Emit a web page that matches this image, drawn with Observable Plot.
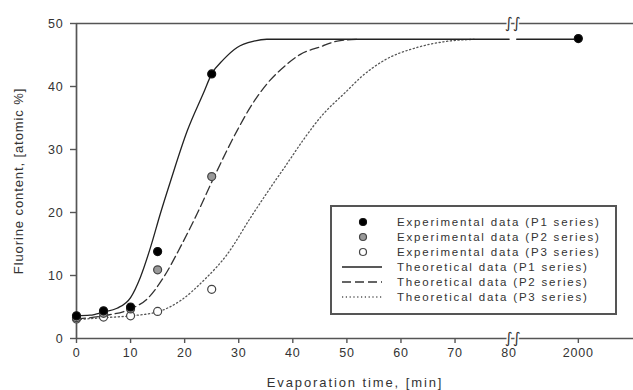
<!DOCTYPE html>
<html><head><meta charset="utf-8">
<script src="https://cdn.jsdelivr.net/npm/d3@7"></script>
<script src="https://cdn.jsdelivr.net/npm/@observablehq/plot@0.6"></script>
<style>
body{margin:0;background:#fff;}
#chart{position:relative;width:633px;height:390px;font-family:"Liberation Sans",Arial,sans-serif;}
#chart svg text{fill:#333;}
#legend{position:absolute;left:330px;top:205px;width:283px;height:106px;border:2px solid #555;background:#fff;}
#legend text{font-family:"Liberation Sans",Arial,sans-serif;font-size:11.5px;letter-spacing:1.8px;fill:#222;}
</style></head><body><div id="chart"></div>
<script>
// ---- data ----
const expTimes = [0, 5, 10, 15, 25, 2000];
const p1Exp = [3.6, 4.4, 5.0, 13.8, 42.0, 47.6];
const p2Exp = [3.3, 4.0, 4.7, 10.9, 25.7, null];
const p3Exp = [3.1, 3.4, 3.6, 4.3, 7.8, null];

const p1TheoT = [0, 2.5, 5, 7.5, 10, 11.8, 13.7, 15.5, 17.4, 20.5, 23.5, 25, 27.2, 29.7, 32.8, 35.2, 80, 1000, 2000];
const p1TheoV = [3.6, 3.7, 4.2, 4.8, 6.5, 9.7, 14.5, 19.8, 25.0, 33.0, 39.0, 42.0, 44.3, 46.2, 47.2, 47.5, 47.5, 47.5, 47.5];
const p2TheoT = [0, 5, 10, 13.1, 16.1, 19.2, 22.3, 25.1, 29.7, 32.5, 35.2, 38.6, 41.4, 45.1, 48.2, 52];
const p2TheoV = [3.1, 3.6, 4.7, 6.3, 9.7, 14.5, 19.8, 25.0, 33.0, 37.2, 40.4, 43.3, 45.1, 46.3, 47.2, 47.5];
const p3TheoT = [0, 5, 10, 14.9, 19.2, 23.5, 27.9, 32.2, 35.6, 38.9, 42.0, 45.1, 50.0, 52.5, 56.8, 63, 67.9, 74];
const p3TheoV = [3.0, 3.3, 3.6, 4.2, 6.0, 9.2, 13.4, 19.2, 23.6, 27.7, 31.6, 35.1, 39.3, 41.4, 44.1, 46.2, 47.1, 47.5];

const xTicks = [0, 10, 20, 30, 40, 50, 60, 70, 80, 2000];
const xTickLabels = ["0", "10", "20", "30", "40", "50", "60", "70", "80", "2000"];
const yTicks = [0, 10, 20, 30, 40, 50];
const xTitle = "Evaporation time, [min]";
const yTitle = "Fluorine content, [atomic %]";
const legendLabels = [
  "Experimental data (P1 series)",
  "Experimental data (P2 series)",
  "Experimental data (P3 series)",
  "Theoretical data (P1 series)",
  "Theoretical data (P2 series)",
  "Theoretical data (P3 series)"
];

// ---- broken axis mapping ----
const LOW_END = 80;          // last value of the lower segment
const BREAK_POS = 80.7;      // where the break symbol sits
const UP_START = 1000, UP_START_POS = 81.4, UP_SCALE = (92.8 - 81.4) / 1000;
const brk = t => t <= LOW_END ? t : UP_START_POS + (t - UP_START) * UP_SCALE;

const mk = (ts, vs) => ts.map((t, i) => ({t, v: vs[i]})).filter(d => d.v != null);
const theo1 = [];
p1TheoT.forEach((t, i) => { theo1.push({t, v: p1TheoV[i]}); if (t === LOW_END) theo1.push({t: BREAK_POS, v: NaN}); });
const theo2 = mk(p2TheoT, p2TheoV), theo3 = mk(p3TheoT, p3TheoV);
const e1 = mk(expTimes, p1Exp), e2 = mk(expTimes, p2Exp), e3 = mk(expTimes, p3Exp);

const X = d => brk(d.t), Y = d => d.v;
const lineStyle = {x: X, y: Y, curve: "monotone-x", strokeWidth: 1.3};
const styles = {
  d1: {fill: "#000", stroke: "#111"},
  d2: {fill: "#999", stroke: "#444"},
  d3: {fill: "#fff", stroke: "#444"},
  l1: {stroke: "#222"},
  l2: {stroke: "#333", strokeDasharray: "9,4"},
  l3: {stroke: "#555", strokeDasharray: "1.2,2.6"}
};

const plot = Plot.plot({
  width: 633, height: 390,
  marginLeft: 76, marginRight: 0, marginTop: 23, marginBottom: 52,
  x: {domain: [0, 103], axis: null},
  y: {domain: [0, 50], axis: null},
  style: {fontFamily: '"Liberation Sans", Arial, sans-serif', background: "white", color: "#333"},
  marks: [
    Plot.ruleY([0, 50], {stroke: "#555", strokeWidth: 1.7}),
    Plot.ruleX([0], {stroke: "#555", strokeWidth: 1.7}),
    Plot.axisY({ticks: yTicks, tickSize: 6, tickPadding: 7, fontSize: 12.5, label: null, stroke: "#555", strokeWidth: 1.4}),
    Plot.axisX(xTicks.map(brk), {tickSize: 5, tickPadding: 5, fontSize: 12.5, label: null, stroke: "#555", strokeWidth: 1.4,
      tickFormat: d => xTickLabels[xTicks.findIndex(t => brk(t) === d)]}),
    Plot.line(theo3, {...lineStyle, ...styles.l3}),
    Plot.line(theo2, {...lineStyle, ...styles.l2}),
    Plot.line(theo1, {...lineStyle, ...styles.l1}),
    Plot.dot(e3, {x: X, y: Y, r: 4, strokeWidth: 1.2, ...styles.d3}),
    Plot.dot(e2, {x: X, y: Y, r: 4, strokeWidth: 1.2, ...styles.d2}),
    Plot.dot(e1, {x: X, y: Y, r: 4, strokeWidth: 1.2, ...styles.d1}),
    Plot.text([0, 50], {x: () => BREAK_POS, y: d => d, text: () => "∫∫", fontSize: 15, fontFamily: "DejaVu Sans",
      fill: "#333", stroke: "white", strokeWidth: 3, paintOrder: "stroke", lineAnchor: "middle"}),
    Plot.text([xTitle], {frameAnchor: "bottom", dy: 44, fontSize: 13, lineAnchor: "middle", textAnchor: "middle"}),
    Plot.text([yTitle], {frameAnchor: "left", dx: -58, rotate: -90, fontSize: 13, lineAnchor: "middle", textAnchor: "middle"})
  ]
});
const chart = document.getElementById("chart");
chart.appendChild(plot);

// letter spacing of the wide-set labels
const svg = d3.select(plot);
svg.selectAll("text").filter(function() { return this.textContent === xTitle; }).style("letter-spacing", "1.9px");
svg.selectAll("text").filter(function() { return this.textContent === yTitle; }).style("letter-spacing", "0.9px");
svg.selectAll('g[aria-label$="tick label"] text').style("letter-spacing", "0.8px");

// ---- legend ----
const leg = d3.select(chart).append("div").attr("id", "legend")
  .append("svg").attr("width", 283).attr("height", 106);
const kinds = ["d1", "d2", "d3", "l1", "l2", "l3"];
legendLabels.forEach((lab, i) => {
  const y = 15 + i * 15, k = kinds[i], s = styles[k];
  if (k[0] === "d") {
    leg.append("circle").attr("cx", 31).attr("cy", y).attr("r", 3.5)
      .attr("fill", s.fill).attr("stroke", s.stroke).attr("stroke-width", 1.2);
  } else {
    leg.append("line").attr("x1", 10).attr("x2", 50).attr("y1", y).attr("y2", y)
      .attr("stroke", s.stroke).attr("stroke-width", 1.3).attr("stroke-dasharray", s.strokeDasharray || null);
  }
  leg.append("text").attr("x", 65).attr("y", y).attr("dy", "0.35em").text(lab);
});
</script></body></html>
